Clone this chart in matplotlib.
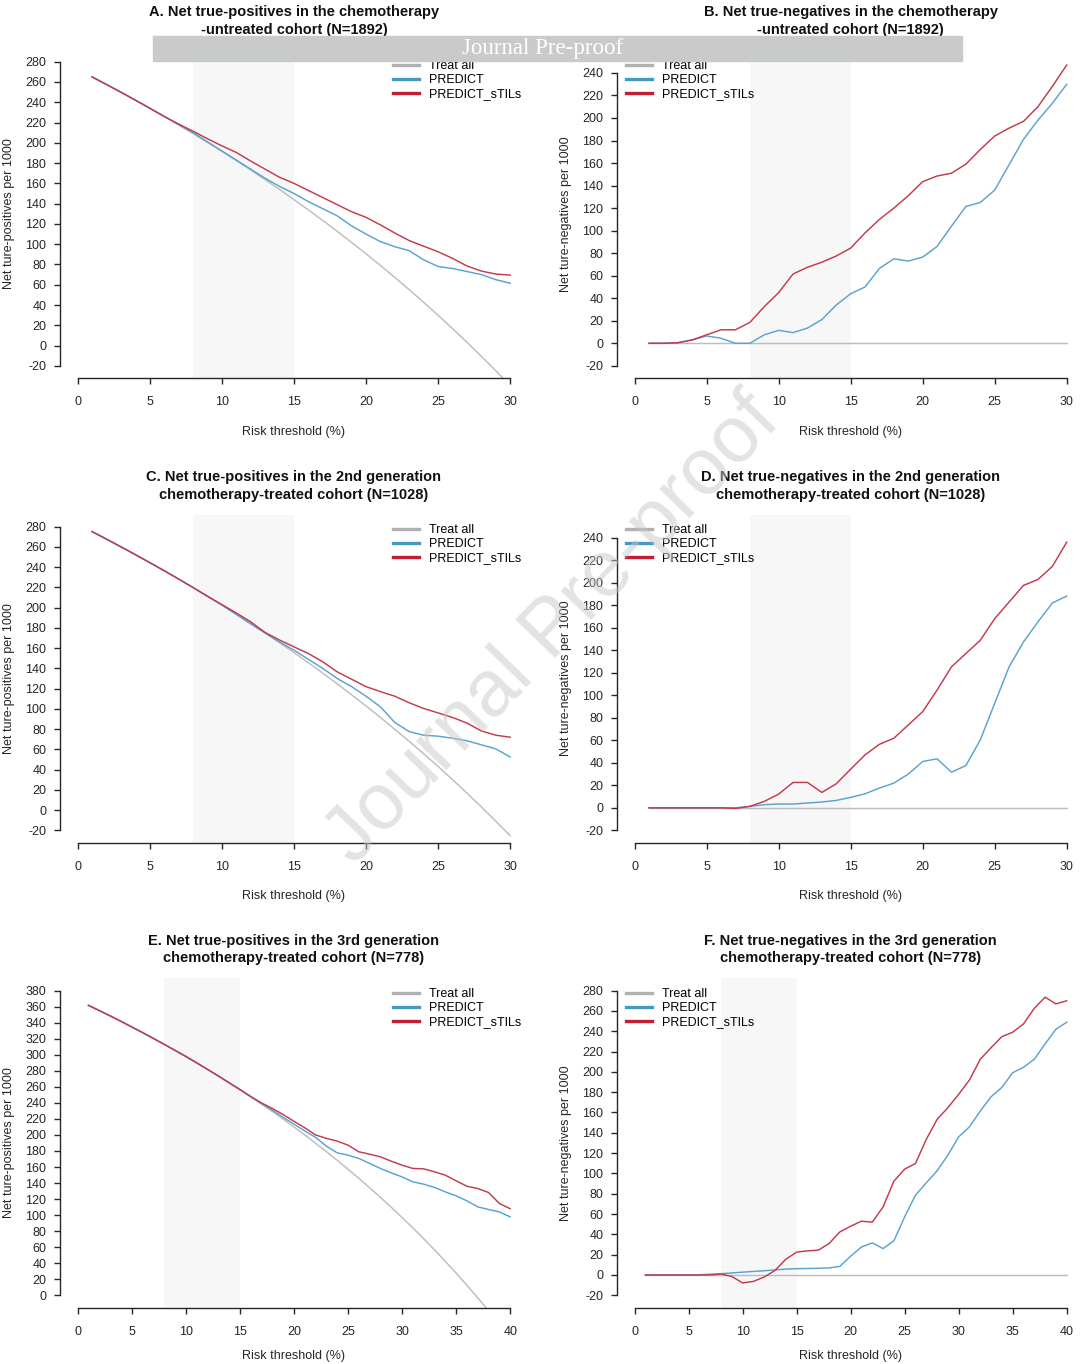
import numpy as np
import matplotlib.pyplot as plt
from matplotlib.lines import Line2D
from matplotlib.patches import Rectangle

plt.rcParams['font.family'] = ['Liberation Sans', 'DejaVu Sans']
plt.rcParams['axes.unicode_minus'] = False

thr30 = list(range(1, 31))
thr40 = list(range(1, 41))

# A. net true-positives, untreated cohort
a_treat = [265, 257.5, 249.9, 242.1, 234.1, 226, 217.6, 209.1, 200.4, 191.6,
           182.5, 173.2, 163.7, 154, 144, 133.8, 123.4, 112.7, 101.7, 90.5,
           79, 67.2, 55.1, 42.6, 29.9, 16.7, 3.3, -10.6, -24.8, -39.4]
a_predict = [265, 257.5, 249.9, 242.1, 234.1, 226, 218, 210, 201, 192,
             183, 174, 165, 157, 150, 142, 135, 128, 118, 110,
             102.5, 97.5, 93.5, 84.5, 78, 76, 73, 70, 65, 61.5]
a_stils = [265, 257.5, 249.9, 242.1, 234.1, 226, 218.5, 211.5, 204, 197,
           190.5, 182, 174, 166, 160, 153, 146, 139, 132, 126.5,
           119, 111, 103.5, 98, 92.5, 86, 78.5, 73.5, 70.5, 69.5]

# B. net true-negatives, untreated cohort
b_treat = [0] * 30
b_predict = [0, 0, 0.5, 3, 6.5, 4.5, 0, 0, 7.5, 11.5,
             9.5, 13.5, 21, 34, 44, 50, 66.5, 75, 73, 76.5,
             86, 104, 121.5, 125, 136, 158.5, 181, 198, 213, 230]
b_stils = [0, 0, 0.5, 3, 7.5, 12, 12, 18.5, 32.5, 45,
           61.5, 67.5, 72, 77.5, 84.5, 98, 110, 120, 131, 143.5,
           148.5, 151, 159, 172, 184, 191, 197, 210, 228, 247]

# C. net true-positives, 2nd generation
c_treat = [275.1, 267.7, 260.1, 252.4, 244.5, 236.5, 228.3, 219.9, 211.3, 202.6,
           193.6, 184.4, 175.1, 165.5, 155.6, 145.6, 135.3, 124.8, 113.9, 102.9,
           91.5, 79.8, 67.9, 55.6, 43.1, 30.1, 16.8, 3.2, -10.9, -25.3]
c_predict = [275.1, 267.7, 260.1, 252.4, 244.5, 236.5, 228.3, 219.9, 211.3, 202.6,
             193.3, 184, 175, 166, 158, 149, 140, 130, 122, 112.5,
             102, 86.5, 77.5, 74, 73, 71, 68.5, 64.5, 60.5, 52.5]
c_stils = [275.1, 267.7, 260.1, 252.4, 244.5, 236.5, 228.3, 219.9, 211.3, 203,
           194.8, 186, 175.5, 168, 161.3, 154.7, 146.5, 136.6, 129.3, 122,
           117, 112.5, 106, 100.4, 96, 91.5, 86, 78.2, 74, 72]

# D. net true-negatives, 2nd generation
d_treat = [0] * 30
d_predict = [0, 0, 0, 0, 0, 0, 0, 1.3, 2.8, 3.4,
             3.4, 4.3, 5.2, 6.6, 9.3, 12.5, 17.6, 22, 30, 41.2,
             43.6, 31.7, 37.6, 60.4, 92.9, 125.4, 147.5, 165.3, 182.1, 188.3]
d_stils = [0, 0, 0, 0, 0, 0, -0.5, 1.3, 5.7, 12.2,
           22.6, 22.6, 13.7, 21.4, 34.4, 47.1, 56.5, 61.9, 73.7, 85.5,
           104.7, 125.4, 137.2, 149, 168.2, 183, 197.8, 203, 214.6, 236.2]

# E. net true-positives, 3rd generation
e_treat = [361.6, 355.1, 348.5, 341.7, 334.7, 327.7, 320.4, 313, 305.5, 297.8,
           289.9, 281.8, 273.6, 265.1, 256.5, 247.6, 238.6, 229.3, 219.7, 210,
           200, 189.7, 179.2, 168.4, 157.3, 145.9, 134.2, 122.2, 109.8, 97.1,
           84.1, 70.6, 56.7, 42.4, 27.7, 12.5, -3.2, -19.3, -36, -53.3]
e_predict = [361.6, 355.1, 348.5, 341.7, 334.7, 327.7, 320.4, 313, 305.5, 298.3,
             290.2, 281.8, 273.6, 265.1, 256.5, 247.6, 239, 231, 222, 213.5,
             205, 197, 186, 177.7, 174.8, 170.7, 164.5, 158.2, 152.7, 147.7,
             141.5, 138.6, 134.5, 129, 124, 117.8, 110.3, 107, 104, 97.8]
e_stils = [361.6, 355.1, 348.5, 341.7, 334.7, 327.7, 320.4, 313, 305.5, 297.8,
           289.9, 281.8, 273.6, 265.1, 256.8, 248, 240, 233, 225.5, 217,
           209, 200, 195.7, 192.3, 187.3, 179, 176, 172.7, 167.3, 162.3,
           158.2, 157.7, 154, 149.8, 142.8, 136, 133.2, 128.2, 114.5, 108]

# F. net true-negatives, 3rd generation
f_treat = [0] * 40
f_predict = [0, 0, 0, 0, 0, 0.3, 0.8, 1.3, 2, 2.8,
             3.5, 4.2, 5, 5.8, 6.2, 6.4, 6.6, 7, 8.5, 18.5,
             27.6, 31.6, 26, 33.6, 57.2, 78.6, 90.7, 102.6, 118, 136,
             145.9, 161.4, 175.5, 184.7, 199.2, 204.5, 212.4, 227.5, 242, 248.8]
f_stils = [0, 0, 0, 0, 0, 0, 0, 1, -1.5, -7.8,
           -6.3, -2, 4.5, 15.5, 22.5, 23.8, 24.4, 31, 42.4, 48,
           53, 52, 67, 92.4, 104.2, 109.8, 133.5, 153.2, 164.7, 177.9,
           192, 212.4, 223.8, 234.7, 239, 247.2, 262.6, 273.5, 266.9, 270]

series_names = ['Treat all', 'PREDICT', 'PREDICT_sTILs']
line_colors = ['#bdbdbd', '#5aa3cf', '#c23b4b']
legend_colors = ['#b0b0b0', '#4596c9', '#c21d33']
xlab = 'Risk threshold (%)'
ylab_tp = 'Net ture-positives per 1000'
ylab_tn = 'Net ture-negatives per 1000'
ink = '#262626'

W, H = 1080, 1364
fig = plt.figure(figsize=(W / 100, H / 100), dpi=100)


def panel(box, x, ys, title, ylabel, xlim, ylim, yticks, xticks, leg_xy, xlab_y=-0.145):
    left, top, right, bottom = box
    ax = fig.add_axes([left / W, 1 - bottom / H, (right - left) / W, (bottom - top) / H])
    ax.axvspan(8, 15, color='#f7f7f7', zorder=0, lw=0)
    for y, c in zip(ys, line_colors):
        ax.plot(x, y, color=c, lw=1.05, zorder=2)
    ax.set_xlim(*xlim)
    ax.set_ylim(*ylim)
    ax.set_xticks(xticks)
    ax.set_yticks(yticks)
    for s in ['top', 'right']:
        ax.spines[s].set_visible(False)
    ax.spines['left'].set_bounds(yticks[0], yticks[-1])
    ax.spines['bottom'].set_bounds(xticks[0], xticks[-1])
    for s in ['left', 'bottom']:
        ax.spines[s].set_color(ink)
        ax.spines[s].set_linewidth(1.0)
    ax.tick_params(direction='out', length=4.6, width=1.0, color=ink,
                   labelcolor=ink, labelsize=9)
    ax.tick_params(axis='x', pad=8.5)
    ax.tick_params(axis='y', pad=5.5)
    ax.set_title(title, fontsize=10.5, fontweight='bold', color='#111111',
                 pad=11.5, linespacing=1.3)
    ax.set_xlabel(xlab, fontsize=9, color=ink)
    ax.xaxis.set_label_coords(0.5, xlab_y)
    ax.set_ylabel(ylabel, fontsize=9, color=ink)
    ax.yaxis.set_label_coords(-0.097, 0.5)
    handles = [Line2D([], [], color=c, lw=2.4) for c in legend_colors]
    ax.legend(handles, series_names, loc='upper left',
              bbox_to_anchor=(leg_xy[0] / W, 1 - leg_xy[1] / H),
              bbox_transform=fig.transFigure, frameon=False, fontsize=9,
              handlelength=2.1, handletextpad=0.75, labelspacing=0.16,
              borderpad=0, borderaxespad=0)
    return ax


L = (60.3, 527.5)
R = (617.3, 1084.0)
rows = [(49.5, 378.0), (514.5, 842.5), (978.4, 1307.5)]
yt280 = list(range(-20, 281, 20))
yt240 = list(range(-20, 241, 20))
yt380 = list(range(0, 381, 20))
xt30 = list(range(0, 31, 5))
xt40 = list(range(0, 41, 5))

panel((L[0], rows[0][0], L[1], rows[0][1]), thr30, [a_treat, a_predict, a_stils],
      'A. Net true-positives in the chemotherapy\n-untreated cohort (N=1892)',
      ylab_tp, (-1.2, 31.2), (-32, 292), yt280, xt30, (393, 60))
panel((R[0], rows[0][0], R[1], rows[0][1]), thr30, [b_treat, b_predict, b_stils],
      'B. Net true-negatives in the chemotherapy\n-untreated cohort (N=1892)',
      ylab_tn, (-1.2, 31.2), (-30.8, 260.8), yt240, xt30, (626, 60))
panel((L[0], rows[1][0], L[1], rows[1][1]), thr30, [c_treat, c_predict, c_stils],
      'C. Net true-positives in the 2nd generation\nchemotherapy-treated cohort (N=1028)',
      ylab_tp, (-1.2, 31.2), (-32, 292), yt280, xt30, (393, 524))
panel((R[0], rows[1][0], R[1], rows[1][1]), thr30, [d_treat, d_predict, d_stils],
      'D. Net true-negatives in the 2nd generation\nchemotherapy-treated cohort (N=1028)',
      ylab_tn, (-1.2, 31.2), (-30.8, 260.8), yt240, xt30, (626, 524))
panel((L[0], rows[2][0], L[1], rows[2][1]), thr40, [e_treat, e_predict, e_stils],
      'E. Net true-positives in the 3rd generation\nchemotherapy-treated cohort (N=778)',
      ylab_tp, (-1.6, 41.6), (-15.2, 395.2), yt380, xt40, (393, 988), xlab_y=-0.13)
panel((R[0], rows[2][0], R[1], rows[2][1]), thr40, [f_treat, f_predict, f_stils],
      'F. Net true-negatives in the 3rd generation\nchemotherapy-treated cohort (N=778)',
      ylab_tn, (-1.6, 41.6), (-32, 292), yt280, xt40, (626, 988), xlab_y=-0.13)

# journal banner and watermark
fig.patches.append(Rectangle((153 / W, 1 - 61 / H), 809 / W, 25 / H,
                             transform=fig.transFigure, color='#c9cacc', zorder=10))
fig.text(543 / W, 1 - 48.5 / H, 'Journal Pre-proof', color='white', fontsize=16.5,
         family=['Liberation Serif', 'DejaVu Serif'], ha='center', va='center', zorder=11)
fig.text(553 / W, 1 - 630 / H, 'Journal Pre-proof', color='#c8c8c8', alpha=0.5,
         fontsize=57.5, rotation=46, ha='center', va='center', zorder=12)

fig.savefig('out.png', dpi=100, facecolor='white')
